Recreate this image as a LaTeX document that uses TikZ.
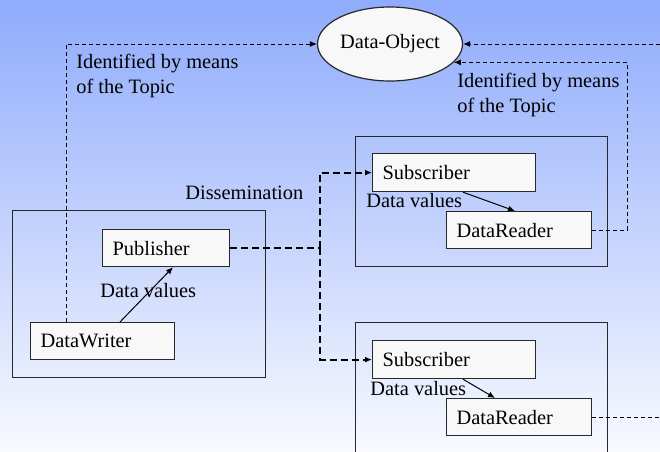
\documentclass[tikz,border=0pt]{standalone}
\usepackage{fontspec}
\setmainfont{Liberation Serif}
\usetikzlibrary{arrows.meta,shapes.geometric}
\definecolor{bgtop}{RGB}{143,171,251}
\definecolor{bgbot}{RGB}{248,250,255}
\definecolor{boxfill}{RGB}{248,248,248}
\definecolor{edge}{RGB}{40,40,40}
\tikzset{
  box/.style={draw=edge, line width=0.6pt, fill=boxfill, anchor=north west, inner xsep=5pt, inner ysep=0pt, align=left, font=\fontsize{10.2}{12}\selectfont},
  frame/.style={draw=edge, line width=0.6pt, anchor=north west, inner sep=0pt},
  lbl/.style={anchor=base west, inner sep=0pt, align=left, font=\fontsize{10.2}{12.5}\selectfont},
  thindash/.style={line width=0.5pt, dash pattern=on 2pt off 1.5pt, -{Latex[length=3.5pt,width=3pt]}},
  thickdash/.style={line width=0.9pt, dash pattern=on 3.5pt off 2pt, -{Latex[length=3.5pt,width=3pt]}},
  flow/.style={line width=0.5pt, -{Latex[length=3.5pt,width=3pt]}}
}
\begin{document}
\begin{tikzpicture}[x=0.5pt,y=-0.5pt]
\useasboundingbox (0,0) rectangle (660,451);
\shade[top color=bgtop, bottom color=bgbot] (0,0) rectangle (660,451);
% containers
\node[frame, minimum width=126.5pt, minimum height=83.5pt] (left) at (12,210) {};
\node[frame, minimum width=126pt, minimum height=65pt] (rtop) at (355,136) {};
\node[frame, minimum width=126pt, minimum height=74pt] (rbot) at (355,322) {};
% ellipse
\node[ellipse, draw=edge, line width=0.6pt, fill=boxfill, minimum width=72.5pt, minimum height=37pt, inner sep=0pt, font=\fontsize{10.2}{12}\selectfont] (obj) at (390,44) {Data-Object};
% boxes
\node[box, text width=53.5pt, minimum height=18.5pt] (pub) at (102,229) {Publisher};
\node[box, text width=62pt, minimum height=18.5pt] (dw) at (30,322) {DataWriter};
\node[box, text width=71.5pt, minimum height=19pt] (sub1) at (372,153) {Subscriber};
\node[box, text width=62.5pt, minimum height=18.5pt] (dr1) at (446,211) {DataReader};
\node[box, text width=71.5pt, minimum height=19pt] (sub2) at (372,340) {Subscriber};
\node[box, text width=62.5pt, minimum height=18.5pt] (dr2) at (446,398) {DataReader};
% labels
\node[lbl] (id1) at (76,93) {Identified by means\\of the Topic};
\node[lbl] (id2) at (457,112) {Identified by means\\of the Topic};
\node[lbl] (diss) at (185,199) {Dissemination};
\node[lbl] (dv1) at (100,297) {Data values};
\node[lbl] (dv2) at (366,207) {Data values};
\node[lbl] (dv3) at (370,395) {Data values};
% data value arrows
\draw[flow] ([xshift=45pt]dw.north west) -- ([xshift=35.5pt]pub.south west);
\draw[flow] ([xshift=45.5pt]sub1.south west) -- ([xshift=34.5pt]dr1.north west);
\draw[flow] ([xshift=45.5pt]sub2.south west) -- ([xshift=24.5pt]dr2.north west);
% identification
\draw[thindash] ([xshift=18pt]dw.north west) |- (obj.west);
\draw[thindash] (dr1.east) -- ++(35,0) |- (obj.-16);
\draw[thindash] (dr2.east) -- ++(110,0) |- (obj.east);
% dissemination
\draw[thickdash, -] (pub.east) -- ++(90,0) coordinate (j);
\draw[thickdash] (j) |- (sub1.west);
\draw[thickdash] (j) |- (sub2.west);
\end{tikzpicture}
\end{document}
